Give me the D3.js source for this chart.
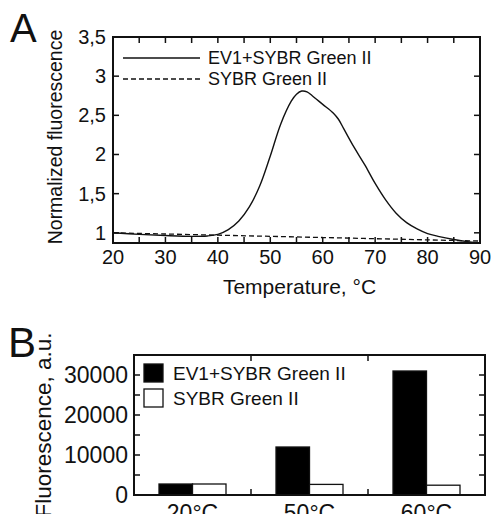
<!DOCTYPE html>
<html>
<head>
<meta charset="utf-8">
<script src="https://cdn.jsdelivr.net/npm/d3@7"></script>
<style>
  html, body { margin: 0; padding: 0; background: #fff; }
  svg text { font-family: "Liberation Sans", Arial, sans-serif; fill: #111; }
</style>
</head>
<body>
<svg id="fig" width="492" height="514"></svg>
<script>
// ── Panel A: melting curves ────────────────────────────────────────────────
const meltTemp = [20, 25, 30, 35, 38, 40, 42, 44, 46, 48, 50, 52, 54, 55, 56, 57, 58, 60, 62, 63, 64, 66, 68, 70, 72, 74, 76, 78, 80, 82, 85, 88, 90];
const meltEV1  = [1.00, 0.98, 0.965, 0.955, 0.96, 0.98, 1.04, 1.15, 1.33, 1.60, 1.98, 2.39, 2.68, 2.77, 2.81, 2.80, 2.75, 2.64, 2.53, 2.45, 2.33, 2.09, 1.87, 1.63, 1.42, 1.25, 1.13, 1.05, 0.99, 0.955, 0.915, 0.885, 0.87];
const dyeTemp  = [20, 30, 40, 50, 60, 70, 80, 90];
const dyeOnly  = [1.0, 0.985, 0.97, 0.955, 0.94, 0.925, 0.91, 0.895];
const yTicksA  = [1, 1.5, 2, 2.5, 3, 3.5];
const xTicksA  = [20, 30, 40, 50, 60, 70, 80, 90];

// ── Panel B: end-point fluorescence ───────────────────────────────────────
const barCats   = ['20°C', '50°C', '60°C'];
const barEV1    = [2750, 12000, 31000];
const barDye    = [2750, 2650, 2450];
const yTicksB   = [0, 10000, 20000, 30000];
const legendLbl = ['EV1+SYBR Green II', 'SYBR Green II'];

const svg = d3.select('#fig');

// ===== A =====
const A = { left: 113, top: 37, right: 480, bottom: 243 };
const xA = d3.scaleLinear().domain([20, 90]).range([A.left, A.right]);
const yA = d3.scaleLinear().domain([0.87, 3.5]).range([A.bottom, A.top]);

svg.append('text').attr('x', 10).attr('y', 42).attr('font-size', 40).text('A');

const gA = svg.append('g');
const tickLen = 6;

// inward ticks
d3.range(20, 91, 5).forEach(t => {
    gA.append('line').attr('x1', xA(t)).attr('x2', xA(t)).attr('y1', A.bottom).attr('y2', A.bottom - tickLen)
        .attr('stroke', '#111').attr('stroke-width', 1.5);
    gA.append('line').attr('x1', xA(t)).attr('x2', xA(t)).attr('y1', A.top).attr('y2', A.top + tickLen)
        .attr('stroke', '#111').attr('stroke-width', 1.5);
});
yTicksA.forEach(t => {
    gA.append('line').attr('x1', A.left).attr('x2', A.left + tickLen).attr('y1', yA(t)).attr('y2', yA(t))
        .attr('stroke', '#111').attr('stroke-width', 1.5);
    gA.append('line').attr('x1', A.right).attr('x2', A.right - tickLen).attr('y1', yA(t)).attr('y2', yA(t))
        .attr('stroke', '#111').attr('stroke-width', 1.5);
});

// tick labels
const commaFmt = d => String(d).replace('.', ',');
gA.selectAll('.ytl').data(yTicksA).join('text')
    .attr('x', A.left - 7).attr('y', d => yA(d)).attr('dy', '0.35em')
    .attr('text-anchor', 'end').attr('font-size', 20).text(commaFmt);
gA.selectAll('.xtl').data(xTicksA).join('text')
    .attr('x', d => xA(d)).attr('y', A.bottom + 21)
    .attr('text-anchor', 'middle').attr('font-size', 20).text(d => d);

gA.append('text').attr('x', (A.left + A.right) / 2 + 3).attr('y', 294)
    .attr('text-anchor', 'middle').attr('font-size', 21).text('Temperature, °C');
gA.append('text')
    .attr('transform', `translate(62,${(A.top + A.bottom) / 2 - 3}) rotate(-90)`)
    .attr('text-anchor', 'middle').attr('font-size', 19.5).text('Normalized fluorescence');

// curves
svg.append('defs').append('clipPath').attr('id', 'clipA')
    .append('rect').attr('x', A.left).attr('y', A.top).attr('width', A.right - A.left).attr('height', A.bottom - A.top);

const lineA = d3.line().x(d => xA(d[0])).y(d => yA(d[1])).curve(d3.curveCatmullRom);
gA.append('path').datum(dyeTemp.map((t, i) => [t, dyeOnly[i]]))
    .attr('d', lineA).attr('fill', 'none').attr('stroke', '#111')
    .attr('stroke-width', 1.3).attr('stroke-dasharray', '5 3').attr('clip-path', 'url(#clipA)');
gA.append('path').datum(meltTemp.map((t, i) => [t, meltEV1[i]]))
    .attr('d', lineA).attr('fill', 'none').attr('stroke', '#111')
    .attr('stroke-width', 1.4).attr('clip-path', 'url(#clipA)');

// legend
[[58, null], [79, '5 3']].forEach(([y, dash], i) => {
    gA.append('line').attr('x1', 123).attr('x2', 200).attr('y1', y).attr('y2', y)
        .attr('stroke', '#111').attr('stroke-width', 1.3).attr('stroke-dasharray', dash);
    gA.append('text').attr('x', 208).attr('y', y).attr('dy', '0.35em')
        .attr('font-size', 18).text(legendLbl[i]);
});

gA.append('rect').attr('x', A.left).attr('y', A.top).attr('width', A.right - A.left).attr('height', A.bottom - A.top)
    .attr('fill', 'none').attr('stroke', '#111').attr('stroke-width', 2);

// ===== B =====
const B = { left: 134, top: 355, right: 485, bottom: 495 };
const xB = d3.scaleBand().domain(barCats).range([B.left, B.right]);
const sub = d3.scaleBand().domain([0, 1]).range([0, 67]);
const yB = d3.scaleLinear().domain([0, 35000]).range([B.bottom, B.top]);

svg.append('text').attr('x', 8).attr('y', 357).attr('font-size', 42).text('B');

const gB = svg.append('g');
const offset = (xB.bandwidth() - 67) / 2;

barCats.forEach((c, i) => {
    [barEV1[i], barDye[i]].forEach((v, j) => {
        gB.append('rect')
            .attr('x', xB(c) + offset + sub(j)).attr('y', yB(v))
            .attr('width', sub.bandwidth()).attr('height', yB(0) - yB(v))
            .attr('fill', j === 0 ? '#000' : '#fff').attr('stroke', '#111').attr('stroke-width', 1.3);
    });
});

// ticks
d3.range(0, 35001, 5000).forEach(t => {
    gB.append('line').attr('x1', B.left).attr('x2', B.left + tickLen).attr('y1', yB(t)).attr('y2', yB(t))
        .attr('stroke', '#111').attr('stroke-width', 1.5);
    gB.append('line').attr('x1', B.right).attr('x2', B.right - tickLen).attr('y1', yB(t)).attr('y2', yB(t))
        .attr('stroke', '#111').attr('stroke-width', 1.5);
});
barCats.slice(1).forEach(c => {
    gB.append('line').attr('x1', xB(c)).attr('x2', xB(c)).attr('y1', B.top).attr('y2', B.top + tickLen)
        .attr('stroke', '#111').attr('stroke-width', 1.5);
    gB.append('line').attr('x1', xB(c)).attr('x2', xB(c)).attr('y1', B.bottom).attr('y2', B.bottom - tickLen)
        .attr('stroke', '#111').attr('stroke-width', 1.5);
});

gB.selectAll('.ytl').data(yTicksB).join('text')
    .attr('x', B.left - 6).attr('y', d => yB(d)).attr('dy', '0.35em')
    .attr('text-anchor', 'end').attr('font-size', 23).text(d => d);
gB.selectAll('.xtl').data(barCats).join('text')
    .attr('x', d => xB(d) + xB.bandwidth() / 2).attr('y', 521)
    .attr('text-anchor', 'middle').attr('font-size', 23).text(d => d);

gB.append('text')
    .attr('transform', `translate(51,${(B.top + B.bottom) / 2}) rotate(-90)`)
    .attr('text-anchor', 'middle').attr('font-size', 22.5).text('Fluorescence, a.u.');

// legend
[[373, '#000'], [398, '#fff']].forEach(([y, fill], i) => {
    gB.append('rect').attr('x', 144).attr('y', y - 9).attr('width', 19).attr('height', 18)
        .attr('fill', fill).attr('stroke', '#111').attr('stroke-width', 1.3);
    gB.append('text').attr('x', 173).attr('y', y).attr('dy', '0.35em')
        .attr('font-size', 19).text(legendLbl[i]);
});

gB.append('rect').attr('x', B.left).attr('y', B.top).attr('width', B.right - B.left).attr('height', B.bottom - B.top)
    .attr('fill', 'none').attr('stroke', '#111').attr('stroke-width', 2);
</script>
</body>
</html>
